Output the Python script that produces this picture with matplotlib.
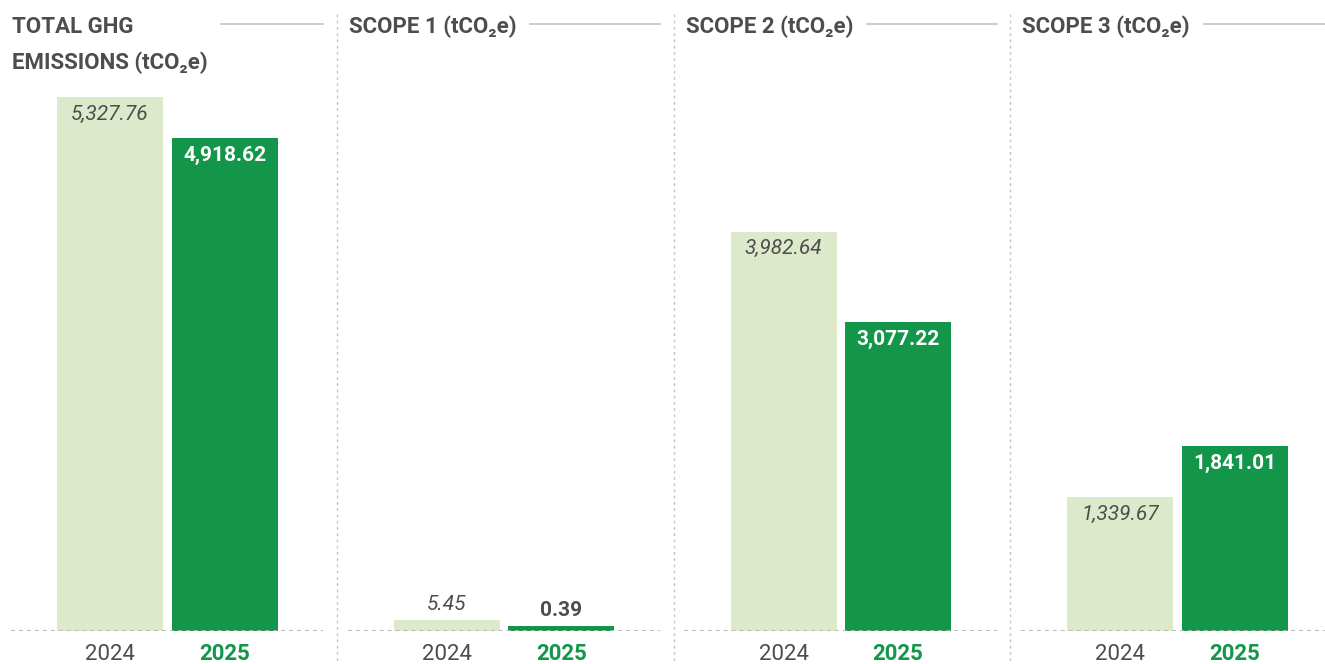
import numpy as np
import matplotlib.pyplot as plt

plt.rcParams["font.family"] = ["Roboto", "DejaVu Sans"]

titles = ["TOTAL GHG\nEMISSIONS (tCO\u2082e)", "SCOPE 1 (tCO\u2082e)",
          "SCOPE 2 (tCO\u2082e)", "SCOPE 3 (tCO\u2082e)"]
years = ["2024", "2025"]
values_2024 = [5327.76, 5.45, 3982.64, 1339.67]
values_2025 = [4918.62, 0.39, 3077.22, 1841.01]

light = "#dde9cb"
green = "#13964a"
dark = "#4d4d4d"
grey_line = "#c4c4c4"

W, H = 1325, 664
fig = plt.figure(figsize=(W / 100, H / 100), dpi=100)


def fx(px):
    return px / W


def fy(py):
    return 1 - py / H


panel_w = W / 4 + 5.5
base_y = 631
top_y = 20
units_per_px = 9.97
min_visible = [110, 50]  # tiny bars still get a sliver

for i, title in enumerate(titles):
    x0 = i * panel_w
    ax = fig.add_axes([fx(x0 + 11), fy(base_y), fx(312), (base_y - top_y) / H])
    ax.set_xlim(-0.865, 1.86)
    ax.set_ylim(0, (base_y - top_y) * units_per_px)
    ax.axis("off")

    vals = [values_2024[i], values_2025[i]]
    heights = [max(v, m) for v, m in zip(vals, min_visible)]
    ax.bar([0, 1], heights, width=0.926, color=[light, green])
    ax.axhline(0, color="#b5b5b5", lw=1.3, ls=(0, (2.2, 2.2)))

    for j, (v, h) in enumerate(zip(vals, heights)):
        txt = f"{v:,.2f}"
        inside = h > 400
        style = "italic" if j == 0 else "normal"
        weight = "normal" if j == 0 else "bold"
        color = dark if (j == 0 or not inside) else "white"
        ax.annotate(txt, (j, h), xytext=(0, -12.5 if inside else 11),
                    textcoords="offset points", ha="center", va="center",
                    fontsize=15, fontstyle=style, fontweight=weight, color=color)

    # x labels
    ax.text(0, -23 * units_per_px, years[0], ha="center", va="center",
            fontsize=16, color=dark)
    ax.text(1, -23 * units_per_px, years[1], ha="center", va="center",
            fontsize=16, color=green, fontweight="bold")

    # title (one text per line) and rule
    for k, line in enumerate(title.split("\n")):
        t = fig.text(fx(x0 + 12), fy(33 + 36 * k), line, ha="left",
                     va="baseline", fontsize=16, fontweight="bold", color=dark)
    fig.canvas.draw()
    if "\n" in title:
        line_start = x0 + 221
    else:
        line_start = t.get_window_extent().x1 + 14
    fig.add_artist(plt.Line2D([fx(line_start), fx(x0 + 323)], [fy(24), fy(24)],
                              color=grey_line, lw=1.2, transform=fig.transFigure))

    if i < 3:
        sx = (i + 1) * panel_w
        fig.add_artist(plt.Line2D([fx(sx), fx(sx)], [fy(14), 0],
                                  color="#c4c4c4", lw=1, ls=(0, (2, 2.5)),
                                  transform=fig.transFigure))

fig.savefig("out.png", dpi=100)
